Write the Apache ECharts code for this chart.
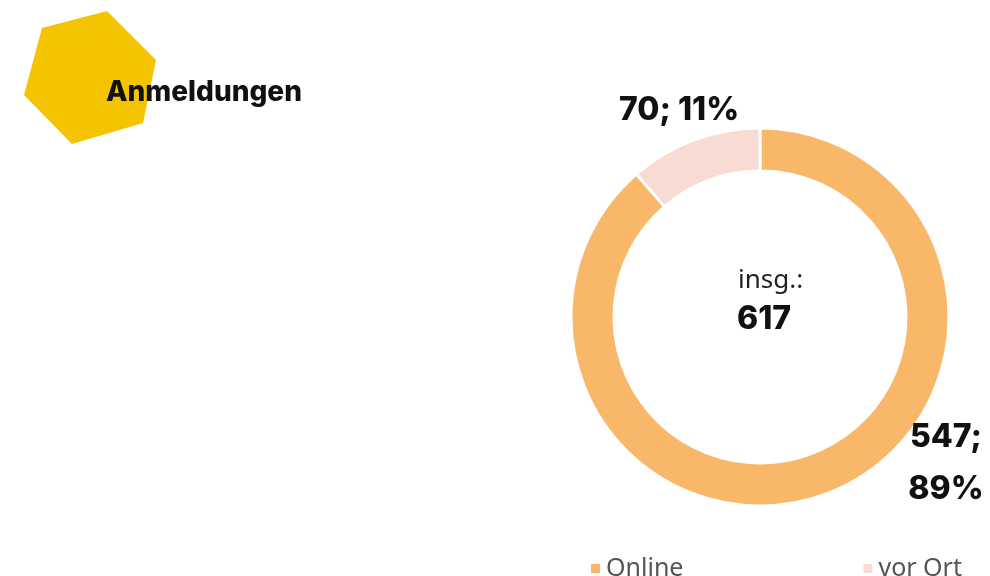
<!DOCTYPE html>
<html>
<head>
<meta charset="utf-8">
<script src="https://cdn.jsdelivr.net/npm/echarts@6/dist/echarts.min.js"></script>
<style>
  html, body { margin: 0; padding: 0; background: #fff; }
  #chart { width: 990px; height: 576px; }
</style>
</head>
<body>
<div id="chart"></div>
<script>
var categories = ["Online", "vor Ort"];
var values = [547, 70];
var percents = [89, 11];
var colors = ["#F9B76A", "#F8DBD2"];

var total = values.reduce(function(a, b) { return a + b; }, 0);

var chart = echarts.init(document.getElementById('chart'));

// label spots (absolute), one per slice
var labelSpots = [
    {x: 946, y: 463},
    {x: 679, y: 110}
];

chart.setOption({
    animation: false,
    color: colors,
    title: [
        {
            text: 'Anmeldungen',
            left: 101, top: 74,
            textStyle: {fontFamily: 'Inter', fontWeight: 800, fontSize: 28, color: '#111'}
        },
        {
            text: 'insg.:',
            left: 733, top: 263,
            textStyle: {fontFamily: 'Noto Sans', fontWeight: 'normal', fontSize: 26, color: '#222'}
        },
        {
            text: String(total),
            left: 732, top: 298,
            textStyle: {fontFamily: 'Inter', fontWeight: 800, fontSize: 32, color: '#111'}
        }
    ],
    graphic: [
        {
            type: 'polygon',
            z: -1,
            shape: {points: [[42, 28], [107, 11], [156, 60], [143, 123], [72, 144], [24, 95]]},
            style: {fill: '#F4C400'}
        }
    ],
    legend: {
        data: categories,
        left: 584, top: 551,
        icon: 'rect',
        itemWidth: 11, itemHeight: 11,
        itemGap: 178,
        textStyle: {fontFamily: 'Noto Sans', fontSize: 25, color: '#555'}
    },
    series: [
        {
            type: 'pie',
            center: [760, 317],
            radius: [146, 189],
            startAngle: 90,
            clockwise: true,
            itemStyle: {borderColor: '#fff', borderWidth: 3},
            label: {
                show: true,
                position: 'outside',
                fontFamily: 'Inter',
                fontWeight: 800,
                fontSize: 32,
                lineHeight: 52,
                color: '#111',
                formatter: function(p) {
                    var sep = p.dataIndex === 0 ? ';\n' : '; ';
                    return p.value + sep + percents[p.dataIndex] + '%';
                }
            },
            labelLine: {show: false},
            labelLayout: function(p) {
                var s = labelSpots[p.dataIndex];
                return {x: s.x, y: s.y, align: 'center', verticalAlign: 'middle'};
            },
            emphasis: {disabled: true},
            data: categories.map(function(c, i) {
                return {name: c, value: values[i]};
            })
        }
    ]
});
</script>
</body>
</html>
